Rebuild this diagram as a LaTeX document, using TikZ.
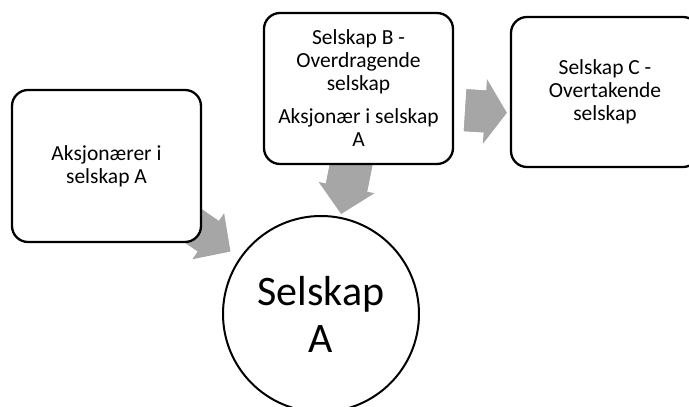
\documentclass[tikz,border=0pt]{standalone}
\usepackage{fontspec}
\setmainfont{Carlito}
\usetikzlibrary{arrows.meta}
\usetikzlibrary{positioning}
\usetikzlibrary{backgrounds}

\definecolor{arrowgray}{RGB}{166,166,166}

\begin{document}
\begin{tikzpicture}[x=1pt,y=1pt]
 \useasboundingbox (0,0) rectangle (689,407);
 \tikzstyle{box} = [draw, line width=2.3pt, rounded corners=16pt, fill=white, align=center, minimum width=189pt, minimum height=151pt, font=\fontsize{21.5}{23}\selectfont];
 \tikzstyle{shaft} = [color=arrowgray, line width=#1];
 \tikzset{blockarrow/.style n args={3}{color=arrowgray, line width=#1, -{Triangle[length=#2, width=#3, line width=0pt]}}}

 \node (selskapA) [circle, draw, line width=2pt, fill=white, minimum size=196pt, align=center, font=\fontsize{42}{47}\selectfont] at (321,93) {Selskap\\A};
 \node (aksjA) [box, minimum height=152pt] at (106.5,241) {Aksjonærer i\\selskap A};
 \node (selskapB) [box] at (358.5,318.5) {Selskap B -\\Overdragende\\selskap\\[10pt]Aksjonær i selskap\\A};
 \node (selskapC) [box, minimum width=188pt, minimum height=150pt] at (605,315) {Selskap C -\\Overtakende\\selskap};

 % grey block arrows behind the boxes
 \begin{pgfonlayer}{background}
 \draw [blockarrow={37pt}{27pt}{56pt}, shorten >=110pt] (aksjA.center) -- (selskapA.center);
 \draw [shaft=37pt, shorten >=134pt] (aksjA.center) -- (selskapA.center);
 \draw [blockarrow={42pt}{27pt}{57pt}, shorten >=102pt] ([xshift=8pt]selskapB.center) -- (selskapA.center);
 \draw [shaft=42pt, shorten >=126pt] ([xshift=8pt]selskapB.center) -- (selskapA.center);
 \draw [blockarrow={42pt}{22pt}{65pt}, shorten <=11pt, shorten >=3pt] ([yshift=-21pt]selskapB.east) -- ([yshift=-21pt]selskapC.west);
 \draw [shaft=42pt, shorten <=11pt, shorten >=22pt] ([yshift=-21pt]selskapB.east) -- ([yshift=-21pt]selskapC.west);
 \end{pgfonlayer}
\end{tikzpicture}
\end{document}
